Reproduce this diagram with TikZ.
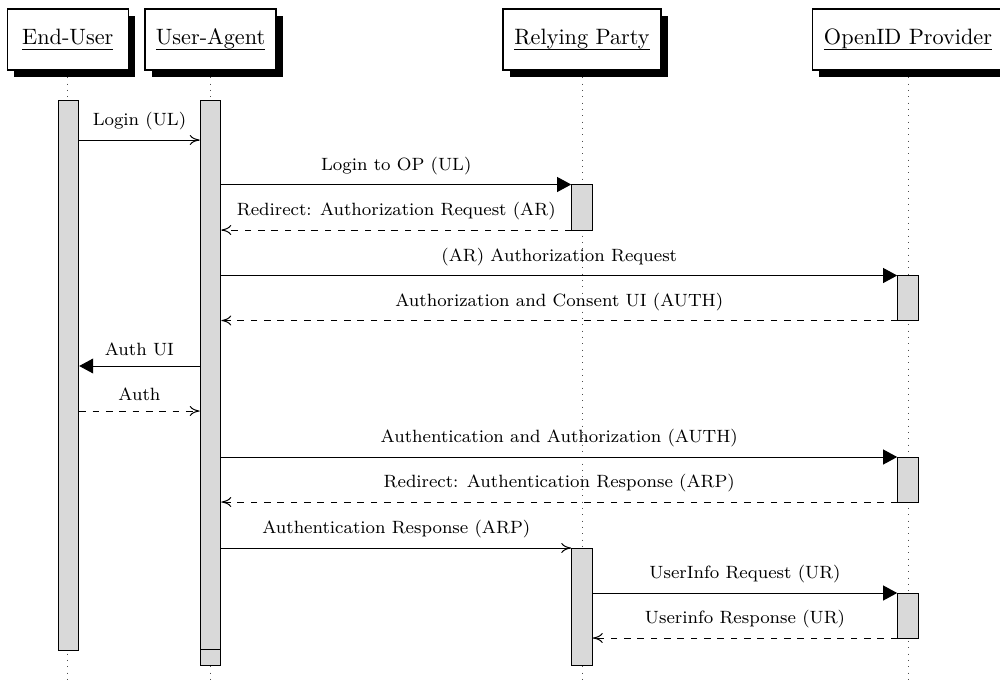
\documentclass[tikz,border=0pt]{standalone}
\usetikzlibrary{arrows.meta,fit,shadows}

% object name, underlined at a fixed depth
\newcommand\objname[1]{\underline{\vphantom{Ah}\smash{#1}\rule[-1.1pt]{0pt}{1.1pt}}}

\tikzset{
  objbox/.style={draw, fill=white, line width=0.5pt, minimum height=27.45pt, inner sep=0pt,
    drop shadow={shadow xshift=3pt, shadow yshift=-3pt, fill=black, opacity=1}},
  actbar/.style={draw, fill=gray!30, line width=0.45pt, inner sep=0pt},
  lifeline/.style={draw=black!70, line width=0.4pt, dash pattern=on 0.4pt off 2.45pt},
  call/.style={line width=0.45pt, -{Triangle[length=6.3pt,width=6.7pt]}},
  msg/.style={line width=0.45pt, -{Computer Modern Rightarrow[length=4.5pt,width=4.6pt]}},
  reply/.style={msg, dashed},
  lbl/.style={midway, above=4.3pt, inner sep=0pt, font=\footnotesize}
}

\begin{document}
\begin{tikzpicture}[x=0.45pt, y=-0.45pt]
\useasboundingbox (0,0) rectangle (1000,684);

% object headers
\node[objbox, minimum width=54.45pt] (eu) at (67.8,39.5) {\objname{End-User}};
\node[objbox, minimum width=58.95pt] (ua) at (210.5,39.5) {\objname{User-Agent}};
\node[objbox, minimum width=71.1pt]  (rp) at (582,39.5) {\objname{Relying Party}};
\node[objbox, minimum width=85.95pt] (op) at (908,39.5) {\objname{OpenID Provider}};

\coordinate (bottom) at (0,684);

% lifelines
\draw[lifeline] ([yshift=-3pt]eu.south) -- (eu.south |- bottom);
\draw[lifeline] ([yshift=-3pt]ua.south) -- (ua.south |- bottom);
\draw[lifeline] ([yshift=-3pt]rp.south) -- (rp.south |- bottom);
\draw[lifeline] ([yshift=-3pt]op.south) -- (op.south |- bottom);

% activation bars
\node[actbar, fit={(58.3,100) (78.7,650)}] (eubar) {};
\node[actbar, fit={(200.2,100) (220.8,665.5)}] (uabar) {};
\node[actbar, fit={(200.2,100) (220.8,649.5)}] (uabarin) {};
\node[actbar, fit={(571.7,184.5) (592.3,230)}] (rpbar1) {};
\node[actbar, fit={(571.7,548) (592.3,665.5)}] (rpbar2) {};
\node[actbar, fit={(897.7,275.5) (918.3,320.5)}] (opbar1) {};
\node[actbar, fit={(897.7,457) (918.3,502)}] (opbar2) {};
\node[actbar, fit={(897.7,593) (918.3,638)}] (opbar3) {};

% message levels
\coordinate (y1) at (0,140);
\coordinate (y2) at (0,184.5);
\coordinate (y3) at (0,230);
\coordinate (y4) at (0,275.5);
\coordinate (y5) at (0,320.5);
\coordinate (y6) at (0,366);
\coordinate (y7) at (0,411);
\coordinate (y8) at (0,457);
\coordinate (y9) at (0,502);
\coordinate (y10) at (0,548);
\coordinate (y11) at (0,593);
\coordinate (y12) at (0,638);

% messages
\draw[msg] (eubar.east |- y1) -- (uabar.west |- y1) node[lbl] {Login (UL)};
\draw[call] (uabar.east |- y2) -- (rpbar1.west |- y2) node[lbl] {Login to OP (UL)};
\draw[reply] (rpbar1.west |- y3) -- (uabar.east |- y3) node[lbl] {Redirect: Authorization Request (AR)};
\draw[call] (uabar.east |- y4) -- (opbar1.west |- y4) node[lbl] {(AR) Authorization Request};
\draw[reply] (opbar1.west |- y5) -- (uabar.east |- y5) node[lbl] {Authorization and Consent UI (AUTH)};
\draw[call] (uabar.west |- y6) -- (eubar.east |- y6) node[lbl] {Auth UI};
\draw[reply] (eubar.east |- y7) -- (uabar.west |- y7) node[lbl] {Auth};
\draw[call] (uabar.east |- y8) -- (opbar2.west |- y8) node[lbl] {Authentication and Authorization (AUTH)};
\draw[reply] (opbar2.west |- y9) -- (uabar.east |- y9) node[lbl] {Redirect: Authentication Response (ARP)};
\draw[msg] (uabar.east |- y10) -- (rpbar2.west |- y10) node[lbl] {Authentication Response (ARP)};
\draw[call] (rpbar2.east |- y11) -- (opbar3.west |- y11) node[lbl] {UserInfo Request (UR)};
\draw[reply] (opbar3.west |- y12) -- (rpbar2.east |- y12) node[lbl] {Userinfo Response (UR)};
\end{tikzpicture}
\end{document}
